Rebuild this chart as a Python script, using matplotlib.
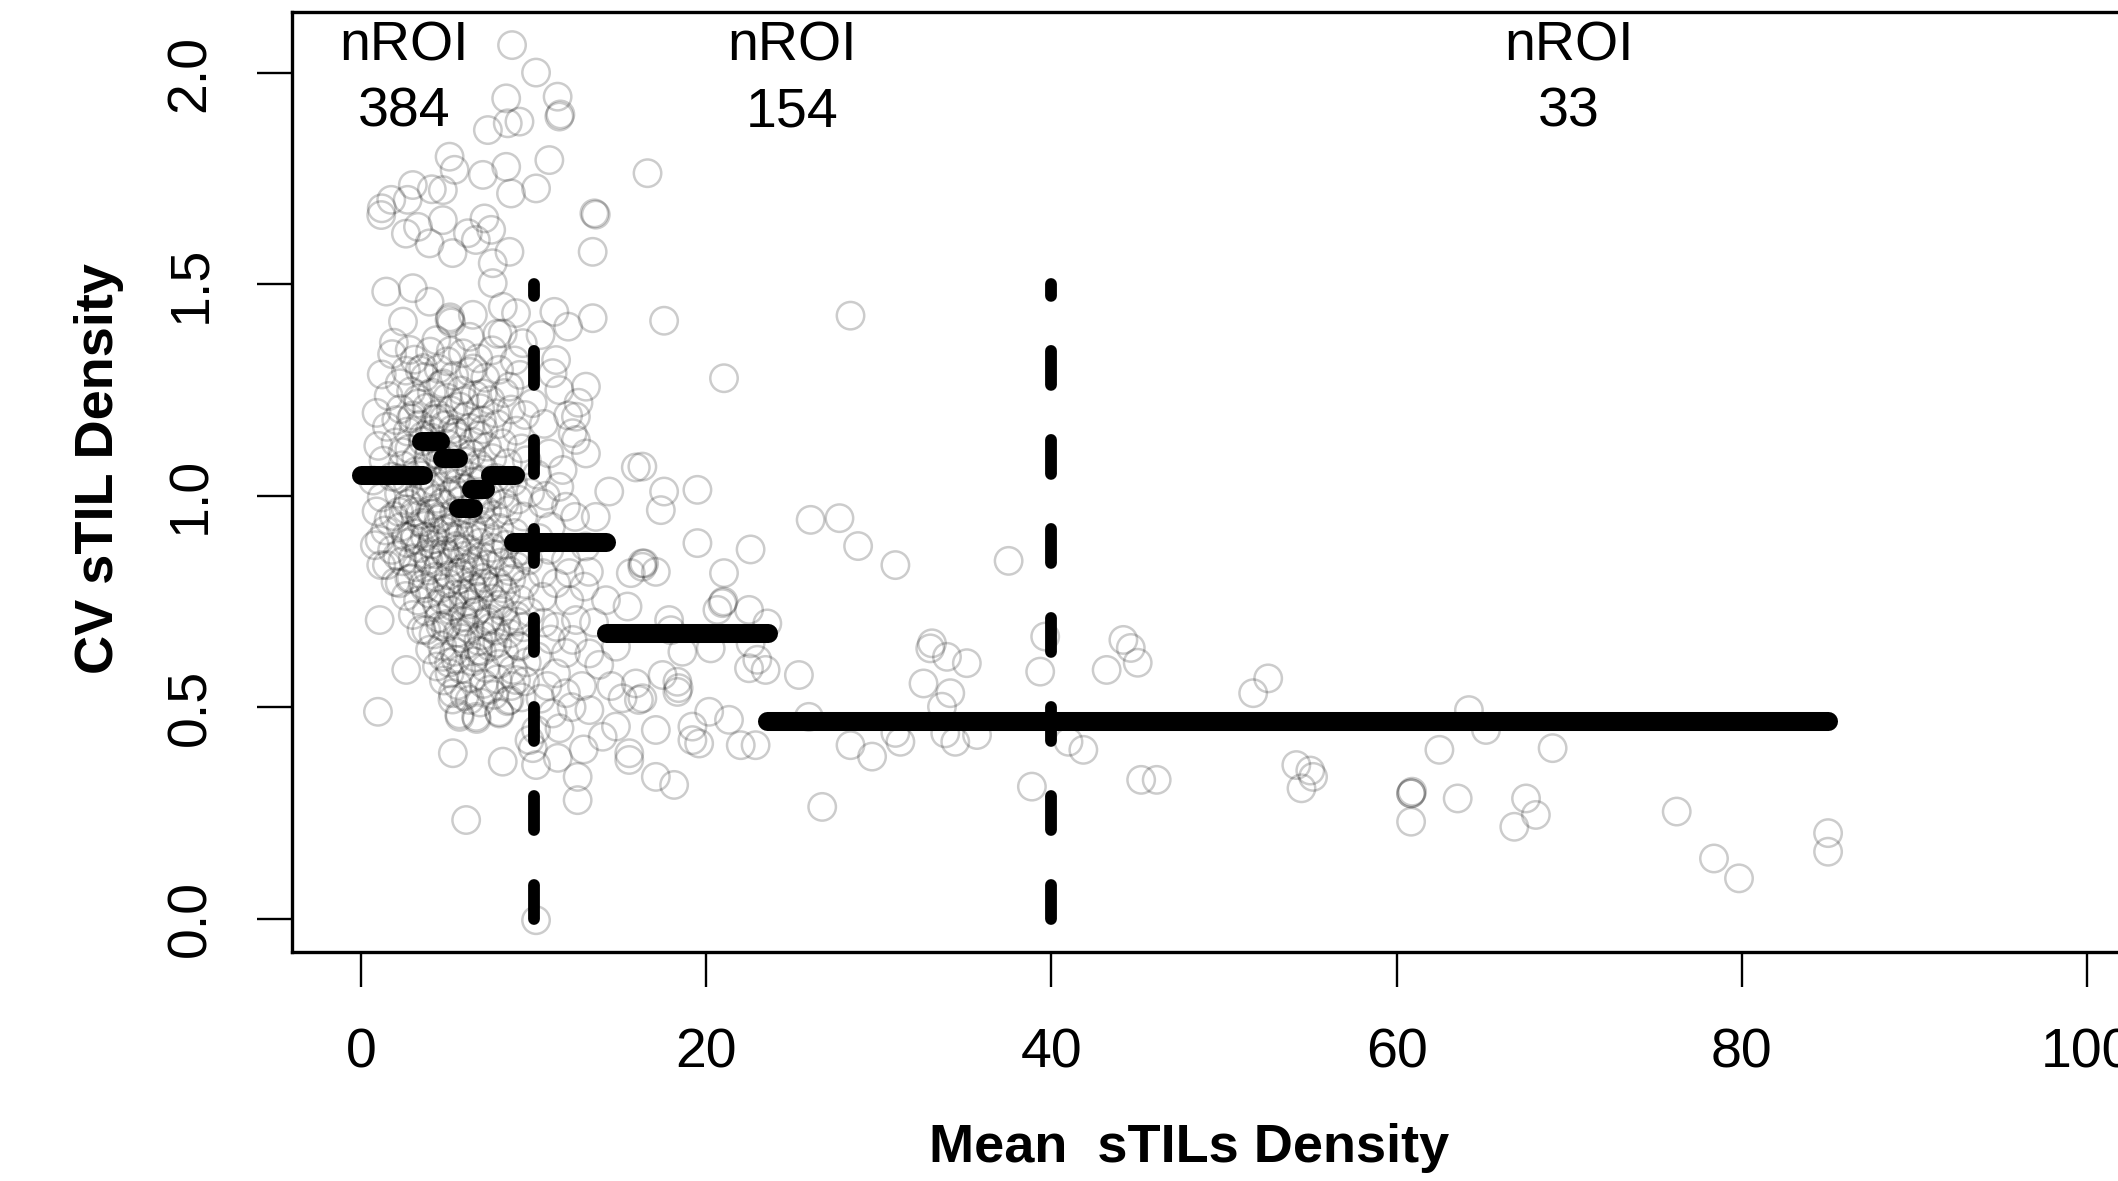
import numpy as np
import matplotlib
matplotlib.use('Agg')
import matplotlib.pyplot as plt

plt.rcParams['font.family'] = ['Liberation Sans', 'DejaVu Sans']

# ROIs with mean density < 10 (core estimated)
low_top = [(8.75,2.066),(8.41,1.940),(7.35,1.865),(8.50,1.881),(9.18,1.885),(5.13,1.802),(5.42,1.771),
           (4.74,1.723),(7.06,1.759),(8.41,1.778),(8.69,1.715),(3.00,1.735),(1.75,1.700),(1.17,1.664),
           (3.30,1.636),(4.74,1.652),(6.19,1.621),(7.15,1.656),(7.54,1.629),(8.60,1.577),(2.60,1.620),
           (3.97,1.597),(5.30,1.574),(6.65,1.605),(7.63,1.503),(7.63,1.550),(1.46,1.483),(3.00,1.491),
           (3.97,1.459),(5.13,1.416),(5.16,1.422),(5.22,1.410),(2.43,1.412),(6.48,1.428),(8.21,1.447),
           (8.98,1.432),(2.82,1.345),(4.36,1.368),(6.29,1.376),(8.21,1.384),(9.37,1.361),(2.24,1.266),
           (3.40,1.297),(4.74,1.266),(5.71,1.211),(7.06,1.242),(8.60,1.258),(9.95,1.219),(2.04,1.179),
           (1.20,1.680),(2.70,1.700),(4.10,1.725)]
low_core = [(1.8,1.335),(3.1,1.322),(4.0,1.341),(5.0,1.318),(5.9,1.337),(6.8,1.325),(7.6,1.344),(8.9,1.320),
            (1.2,1.287),(2.6,1.296),(3.7,1.281),(4.5,1.300),(5.4,1.284),(6.3,1.293),(7.2,1.279),(8.0,1.298),(9.2,1.286),
            (1.6,1.236),(2.9,1.247),(3.3,1.229),(4.1,1.244),(5.0,1.232),(5.8,1.249),(6.6,1.238),(7.5,1.226),(8.3,1.243),
            (0.9,1.196),(2.3,1.205),(3.0,1.190),(3.8,1.208),(4.4,1.193),(5.2,1.202),(6.1,1.188),(6.9,1.207),(7.8,1.195),(8.7,1.204),(9.5,1.191),
            (1.5,1.163),(2.7,1.152),(3.4,1.168),(4.0,1.155),(4.8,1.166),(5.5,1.150),(6.3,1.161),(7.1,1.157),(7.9,1.169),(9.0,1.154),
            (1.0,1.118),(2.0,1.126),(2.8,1.111),(3.6,1.129),(4.3,1.114),(5.0,1.123),(5.8,1.109),(6.5,1.127),(7.3,1.116),(8.2,1.124),(9.3,1.112),
            (1.3,1.083),(2.4,1.072),(3.2,1.088),(3.9,1.076),(4.6,1.085),(5.3,1.070),(6.0,1.081),(6.8,1.074),(7.6,1.089),(8.5,1.077),(9.6,1.084),
            (0.7,1.036),(1.8,1.045),(2.7,1.031),(3.5,1.048),(4.2,1.034),(4.9,1.043),(5.6,1.029),(6.3,1.046),(7.0,1.037),(7.8,1.042),(8.8,1.033),
            (1.2,0.996),(2.2,1.005),(3.0,0.990),(3.8,1.008),(4.4,0.993),(5.1,1.002),(5.8,0.988),(6.6,1.006),(7.3,0.995),(8.1,1.003),(9.1,0.991),(9.8,1.007),
            (0.9,0.963),(1.9,0.952),(2.6,0.968),(3.4,0.955),(4.0,0.966),(4.7,0.950),(5.4,0.961),(6.1,0.957),(6.9,0.969),(7.7,0.954),(8.5,0.965),(9.4,0.951),
            (1.4,0.918),(2.3,0.926),(3.1,0.911),(3.7,0.929),(4.3,0.914),(5.0,0.923),(5.7,0.909),(6.4,0.927),(7.2,0.916),(8.0,0.924),(8.9,0.912),
            (0.8,0.883),(1.8,0.872),(2.7,0.888),(3.4,0.876),(4.1,0.885),(4.8,0.870),(5.5,0.881),(6.2,0.874),(6.9,0.889),(7.6,0.877),(8.4,0.884),(9.3,0.871),
            (1.5,0.836),(2.4,0.845),(3.2,0.831),(3.9,0.848),(4.5,0.834),(5.2,0.843),(5.9,0.829),(6.6,0.846),(7.3,0.837),(8.1,0.842),(9.0,0.833),(9.7,0.847),
            (2.0,0.796),(2.9,0.805),(3.6,0.790),(4.3,0.808),(5.0,0.793),(5.7,0.802),(6.4,0.788),(7.1,0.806),(7.9,0.795),(8.7,0.803),(9.5,0.791),
            (2.6,0.763),(3.3,0.752),(4.0,0.768),(4.7,0.755),(5.4,0.766),(6.1,0.750),(6.8,0.761),(7.6,0.757),(8.4,0.769),(9.2,0.754),
            (3.0,0.718),(3.8,0.726),(4.5,0.711),(5.2,0.729),(5.9,0.714),(6.6,0.723),(7.4,0.709),(8.2,0.727),(9.0,0.716),(9.8,0.724),
            (3.5,0.683),(4.2,0.672),(4.9,0.688),(5.6,0.676),(6.3,0.685),(7.0,0.670),(7.8,0.681),(8.6,0.674),(9.4,0.689),
            (4.0,0.636),(4.7,0.645),(5.4,0.631),(6.1,0.648),(6.8,0.634),(7.5,0.643),(8.3,0.629),(9.1,0.646),
            (4.4,0.596),(5.1,0.605),(5.8,0.590),(6.5,0.608),(7.2,0.593),(8.0,0.602),(8.8,0.588),(9.6,0.606),
            (4.8,0.563),(5.6,0.552),(6.4,0.568),(7.1,0.555),(7.9,0.566),(8.7,0.550),(9.5,0.561),
            (5.3,0.518),(6.0,0.526),(6.9,0.511),(7.7,0.529),(8.5,0.514),(9.3,0.523),
            (5.7,0.483),(6.7,0.472),(8.0,0.488)]
low_dense = [(2.9,1.183),(3.6,1.142),(4.4,1.098),(5.1,1.063),(5.9,1.018),(6.6,0.978),(3.2,1.058),(4.0,1.021),
             (4.7,0.983),(5.5,0.938),(6.2,0.902),(7.0,0.857),(2.7,0.981),(3.5,0.936),(4.2,0.897),(4.9,0.862),
             (5.7,0.818),(6.5,0.779),(3.9,0.823),(4.6,0.781),(5.3,0.738),(6.0,0.702),(6.8,0.657),(3.1,0.897),
             (3.8,0.861),(4.5,0.944),(5.2,0.903),(6.0,0.858),(6.7,0.821),(7.4,0.784),(4.1,1.137),(4.8,1.182),
             (5.6,1.141),(6.4,1.098),(7.1,1.062),(2.4,1.103),(3.3,1.218),(4.6,1.262),(6.0,1.224),(7.0,1.178),
             (5.0,0.697),(5.8,0.663),(6.6,0.618),(7.3,0.703),(8.0,0.742),(7.8,0.897),(8.3,0.982),(7.5,1.001),
             (8.6,0.822),(3.6,1.302),(5.2,1.343),(6.5,1.301),(1.9,1.362),(7.9,1.383),(2.2,1.041),(1.6,0.942),
             (2.1,0.858),(2.8,0.803),(9.0,0.702),(9.5,0.861)]
low_dense2 = [(3.4,1.012),(4.1,0.958),(4.8,0.917),(5.6,0.873),(6.3,0.832),(7.1,0.792),(3.7,0.781),(4.4,0.742),
              (5.1,0.812),(5.9,0.768),(6.7,0.728),(7.5,0.688),(3.0,0.852),(3.7,0.903),(4.3,0.862),(5.4,1.012),
              (6.2,0.968),(6.9,0.927),(7.7,0.862),(8.2,0.781),(4.9,1.098),(5.7,1.064),(6.5,1.032),(7.3,0.963),
              (3.9,1.092),(2.6,0.903),(2.2,0.962),(4.6,0.692),(5.5,0.612),(6.3,0.743),(7.0,0.632),(8.4,0.702),
              (5.3,1.157),(6.8,1.142),(4.3,1.182),(3.1,0.962),(8.9,0.862),(7.9,0.652)]
low_bottom = [(1.08,0.895),(1.17,0.836),(2.24,0.793),(1.08,0.706),(2.62,0.588),(0.98,0.489),(5.32,0.391),
              (6.09,0.233),(8.21,0.371),(9.95,0.403),(9.18,0.643),(9.76,0.422),(8.02,0.485),(6.67,0.477),
              (5.71,0.477),(5.32,0.533),(5.13,0.580),(4.74,0.619),(3.78,0.682),(6.29,0.517),(7.44,0.541),
              (8.60,0.517),(8.98,0.564)]

# ROIs with mean density 10-40
mid_pts = [(10.14,2.001),(11.39,1.944),(11.49,1.897),(11.55,1.902),(10.91,1.794),(10.14,1.727),(13.52,1.668),
           (13.60,1.665),(13.42,1.577),(11.20,1.435),(13.42,1.420),(17.56,1.414),(11.30,1.321),(11.49,1.250),
           (13.03,1.258),(12.45,1.187),(12.26,1.148),(13.03,1.100),(15.92,1.067),(16.60,1.763),(28.36,1.426),
           (21.03,1.278),(16.30,1.069),(17.56,1.010),(17.37,0.966),(19.49,1.014),(26.05,0.943),(27.72,0.947),
           (28.80,0.881),(30.96,0.836),(37.52,0.846),(19.49,0.888),(22.57,0.873),(17.08,0.820),(16.30,0.832),
           (16.40,0.840),(21.03,0.817),(20.94,0.746),(21.00,0.750),(20.65,0.730),(22.48,0.730),(23.54,0.698),
           (17.95,0.682),(33.08,0.651),(39.64,0.667),(18.62,0.631),(20.26,0.639),(22.57,0.651),(22.48,0.592),
           (23.44,0.588),(22.96,0.612),(25.37,0.576),(17.47,0.576),(18.33,0.560),(18.33,0.536),(18.40,0.545),
           (16.30,0.521),(17.08,0.446),(20.17,0.489),(21.32,0.470),(19.20,0.454),(19.59,0.414),(19.20,0.422),
           (22.00,0.410),(22.86,0.410),(25.95,0.477),(28.36,0.410),(29.61,0.383),(31.25,0.418),(30.96,0.439),
           (26.72,0.264),(17.08,0.335),(18.14,0.316),(32.98,0.639),(33.95,0.619),(35.10,0.604),(32.59,0.556),
           (34.14,0.533),(33.66,0.501),(33.85,0.438),(34.43,0.418),(35.69,0.434),(39.35,0.584),(38.87,0.312),
           (10.14,0.363),(10.14,-0.004),(12.55,0.335),(12.55,0.280),(15.54,0.375),(14.38,1.010),(16.30,0.840),
           (15.63,0.817),(14.19,0.753),(15.44,0.738),(17.85,0.706),(12.94,0.785),(12.45,0.706),(12.26,0.659),
           (13.23,0.627),(14.77,0.643),(15.92,0.556),(15.15,0.521),(16.10,0.517),(13.23,0.493),(14.00,0.430),
           (14.77,0.454),(15.54,0.391),(11.10,0.485),(11.87,0.533),(11.30,0.580),(11.87,0.628),(11.30,0.690),
           (12.07,0.753),(11.30,0.793),(12.07,0.817),(10.53,0.817),(10.53,0.761),(11.87,0.848),(10.91,0.872),
           (11.00,0.927),(11.87,0.974),(11.49,1.021),(11.68,1.061),(10.91,1.100),(12.45,1.132),(10.53,0.982),
           (10.14,0.446),(12.00,1.190),(12.60,1.220),(10.30,0.900),(10.60,0.700),(10.20,0.620),(10.80,0.550),
           (10.40,0.520),(11.50,0.450),(12.80,0.550),(13.50,0.700),(13.00,0.880),(12.40,0.950),(13.60,0.950),
           (10.20,1.050),(10.60,1.170),(11.10,1.290),(12.00,1.400),(10.40,1.380),(12.90,0.400),(11.40,0.380),
           (13.80,0.600),(14.50,0.550),(13.20,0.820),(11.00,0.660),(12.20,0.500),(10.70,1.000)]

# ROIs with mean density > 40
high_pts = [(40.99,0.418),(41.85,0.399),(43.20,0.588),(44.17,0.659),(44.60,0.640),(45.00,0.605),(45.20,0.328),
            (46.10,0.328),(51.69,0.533),(52.56,0.568),(54.19,0.363),(55.16,0.335),(54.49,0.308),(55.00,0.350),
            (60.84,0.296),(60.84,0.296),(60.90,0.300),(60.84,0.229),(62.48,0.399),(63.54,0.284),(64.19,0.493),
            (65.18,0.446),(66.82,0.217),(67.50,0.284),(68.07,0.245),(69.04,0.403),(76.23,0.253),(78.39,0.142),
            (79.84,0.095),(85.00,0.202),(85.00,0.158)]

# binned means (start, end, mean CV)
bin_x0 = [0.0, 3.5, 4.7, 5.6, 6.4, 7.5, 8.8, 14.2, 23.5]
bin_x1 = [3.6, 4.6, 5.6, 6.5, 7.2, 8.9, 14.2, 23.6, 85.0]
bin_y = [1.05, 1.13, 1.09, 0.97, 1.015, 1.05, 0.89, 0.675, 0.467]

cuts = [10, 40]
n_roi = ['384', '154', '33']
n_roi_x = [2.5, 25, 70]

xticks = [0, 20, 40, 60, 80, 100]
yticks = [0.0, 0.5, 1.0, 1.5, 2.0]

pts = np.array(low_top + low_core + low_dense + low_dense2 + low_bottom + mid_pts + high_pts)

W, H = 2118, 1181
fig = plt.figure(figsize=(W/100, H/100), dpi=100)
ax = fig.add_axes([292/W, 1-952/H, (2156-292)/W, (952-12)/H])
ax.set_xlim(-4, 104)
ax.set_ylim(-0.0792, 2.1443)

ax.scatter(pts[:, 0], pts[:, 1], s=390, facecolors='none',
           edgecolors=(0, 0, 0, 0.2), linewidths=1.8, zorder=2)

for x0, x1, y in zip(bin_x0, bin_x1, bin_y):
    ax.plot([x0, x1], [y, y], color='black', lw=13.7, solid_capstyle='round', zorder=3)

for c in cuts:
    ax.plot([c, c], [0, 1.5], color='black', lw=8.5, dashes=(2.88, 4.66),
            dash_capstyle='round', zorder=3)

for x, n in zip(n_roi_x, n_roi):
    ax.text(x, 1.985, 'nROI\n' + n, ha='center', va='center', fontsize=40, linespacing=1.36)

ax.set_xticks(xticks)
ax.set_xticklabels([str(t) for t in xticks])
ax.set_yticks(yticks)
ax.set_yticklabels(['%.1f' % t for t in yticks], rotation=90, va='center')
ax.tick_params(length=25, width=1.7, labelsize=40, pad=29)
for s in ax.spines.values():
    s.set_linewidth(2.4)

fig.text(1189/W, 1-1148/H, 'Mean  sTILs Density', ha='center', va='center',
         fontsize=39, fontweight='bold')
fig.text(99/W, 1-468/H, 'CV sTIL Density', ha='center', va='center',
         fontsize=39, fontweight='bold', rotation=90)

fig.savefig('out.png', dpi=100)
